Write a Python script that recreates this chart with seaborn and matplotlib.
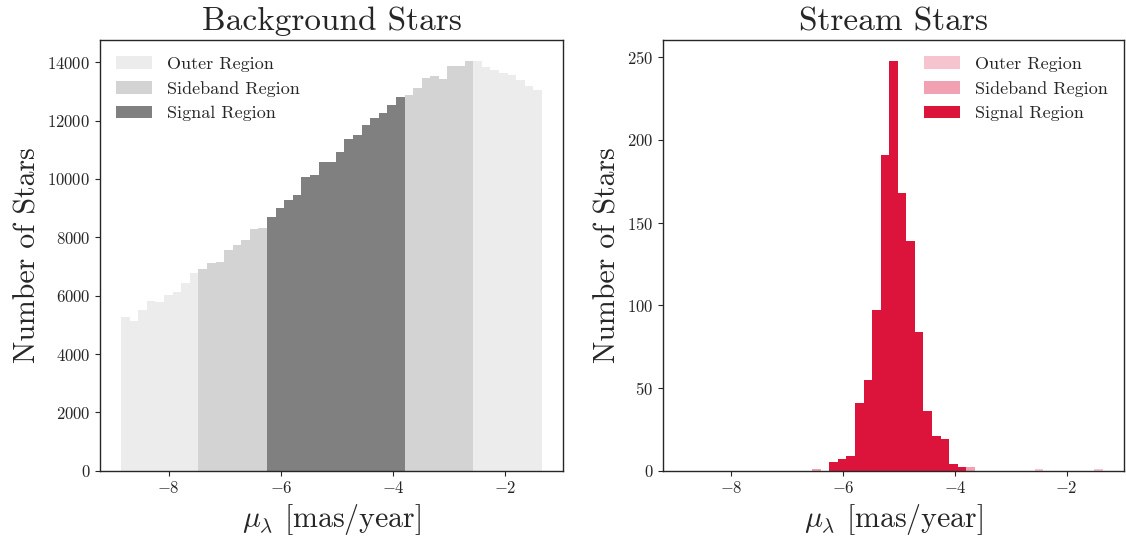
import numpy as np
import pandas as pd
import matplotlib
matplotlib.use("Agg")
import matplotlib.pyplot as plt
import seaborn as sns

# ---- data ----
bin_lo, bin_hi, n_bins = -8.85, -1.35, 49
region_order = ["Outer Region", "Sideband Region", "Signal Region"]
# region of each bin (left outer, left sideband, signal, right sideband, right outer)
region_sizes = [9, 8, 16, 8, 8]
region_seq = ["Outer Region", "Sideband Region", "Signal Region", "Sideband Region", "Outer Region"]

background_counts = [5273, 5136, 5514, 5822, 5788, 6028, 6131, 6440, 6783,
                     6920, 7126, 7160, 7572, 7744, 7915, 8293, 8327,
                     8704, 9013, 9288, 9459, 10053, 10145, 10591, 10591,
                     10935, 11381, 11518, 11861, 12101, 12273, 12547, 12822,
                     12890, 13130, 13473, 13542, 13439, 13885, 13885, 14057,
                     14057, 13851, 13748, 13645, 13576, 13405, 13199, 13062]

stream_counts = [0, 0, 0, 0, 0, 0, 0, 0, 0,
                 0, 0, 0, 0, 0, 0, 1, 0,
                 5, 7, 9, 41, 55, 97, 191, 248,
                 168, 139, 84, 36, 21, 19, 4, 2,
                 2, 0, 0, 0, 0, 0, 0, 0,
                 1, 0, 0, 0, 0, 0, 0, 1]

bg_colors = {"Outer Region": "#ececec", "Sideband Region": "#d3d3d3", "Signal Region": "#808080"}
st_colors = {"Outer Region": "#f6c4ce", "Sideband Region": "#f1a1b1", "Signal Region": "#dc143c"}

# ---- build table ----
edges = list(np.linspace(bin_lo, bin_hi, n_bins + 1))
centers = [0.5 * (a + b) for a, b in zip(edges[:-1], edges[1:])]
regions = []
for name, size in zip(region_seq, region_sizes):
    regions += [name] * size
df = pd.DataFrame({"mu": centers, "region": regions,
                   "bg": background_counts, "st": stream_counts})

sns.set_style("ticks")
plt.rcParams["font.family"] = ["cmr10", "DejaVu Serif"]
plt.rcParams["mathtext.fontset"] = "cm"
plt.rcParams["axes.formatter.use_mathtext"] = True
plt.rcParams["axes.unicode_minus"] = True

fig = plt.figure(figsize=(11.26, 5.43), dpi=100)
ax1 = fig.add_axes([0.0888, 0.1331, 0.4112, 0.7932])
ax2 = fig.add_axes([0.5888, 0.1331, 0.4094, 0.7932])

for ax, col, colors, title, loc in [
        (ax1, "bg", bg_colors, "Background Stars", "upper left"),
        (ax2, "st", st_colors, "Stream Stars", "upper right")]:
    for name in region_order:
        sub = df[df["region"] == name]
        sns.histplot(data=sub, x="mu", weights=col, bins=edges, ax=ax,
                     color=colors[name], alpha=1, linewidth=0,
                     element="bars", label=name)
    ax.set_title(title, fontsize=24, pad=7)
    ax.set_xlabel(r"$\mu_\lambda$ [mas/year]", fontsize=21.5)
    ax.set_ylabel("Number of Stars", fontsize=21.5)
    ax.tick_params(labelsize=12)
    ax.set_xticks([-8, -6, -4, -2])
    ax.legend(loc=loc, frameon=False, fontsize=13)
    for s in ax.spines.values():
        s.set_visible(True)
        s.set_linewidth(1.0)

ax1.set_yticks(range(0, 14001, 2000))
ax2.set_yticks(range(0, 251, 50))

fig.savefig("out.png", dpi=100)
